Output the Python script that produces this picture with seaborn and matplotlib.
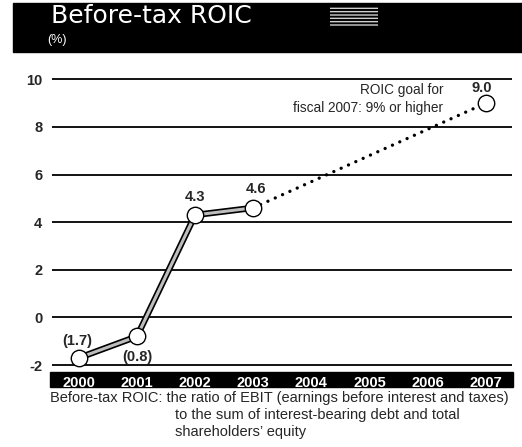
import matplotlib
matplotlib.use("Agg")
import matplotlib.pyplot as plt
from matplotlib.patches import Rectangle
import seaborn as sns
import pandas as pd

years = ["2000", "2001", "2002", "2003", "2004", "2005", "2006", "2007"]
actual_years = ["2000", "2001", "2002", "2003"]
actual_values = [-1.7, -0.8, 4.3, 4.6]
goal_years = ["2003", "2007"]
goal_values = [4.6, 9.0]
value_labels = ["(1.7)", "(0.8)", "4.3", "4.6"]
goal_label = "9.0"
yticks = [-2, 0, 2, 4, 6, 8, 10]

W, H = 522, 447
sns.set_style("white")
plt.rcParams['font.family'] = ['Liberation Sans', 'DejaVu Sans']
fig = plt.figure(figsize=(W / 100, H / 100), dpi=100)

def fx(px):
    return px / W

def fy(py):
    return 1 - py / H

# y: 10 -> 79.3 px, -2 -> 365 px ; ylim(-2.1, 10.2)
ax = fig.add_axes([fx(51.5), fy(367.4), fx(512) - fx(51.5), fy(74.5) - fy(367.4)])
ax.set_xlim(-0.47, 7.45)
ax.set_ylim(-2.1, 10.2)

pos = {y: i for i, y in enumerate(years)}
df_a = pd.DataFrame({"x": [pos[y] for y in actual_years], "v": actual_values})
df_g = pd.DataFrame({"x": [pos[y] for y in goal_years], "v": goal_values})

for yv in yticks:
    ax.axhline(yv, color="black", lw=1.3, zorder=1)

sns.lineplot(data=df_a, x="x", y="v", ax=ax, color="black", lw=4.6, zorder=3,
             solid_capstyle="butt")
sns.lineplot(data=df_a, x="x", y="v", ax=ax, color="#bdbdbd", lw=2.2, zorder=4,
             solid_capstyle="butt")
ln = sns.lineplot(data=df_g, x="x", y="v", ax=ax, color="black", lw=2.4, zorder=3)
ln.lines[-1].set_dashes((0.01, 2.4))
ln.lines[-1].set_dash_capstyle("round")

df_m = pd.concat([df_a, df_g.iloc[[1]]])
sns.scatterplot(data=df_m, x="x", y="v", ax=ax, s=140, color="white",
                edgecolor="black", linewidth=1.0, zorder=5)

# value labels
offsets = [(-0.03, 0.72), (0.0, -0.85), (0.0, 0.75), (0.05, 0.8)]
for (xv, yv), lab, (dx, dy) in zip(zip(df_a["x"], df_a["v"]), value_labels, offsets):
    ax.text(xv + dx, yv + dy, lab, ha="center", va="center", fontsize=10.5,
            fontweight="bold", zorder=6)
ax.text(df_g["x"].iloc[-1] - 0.07, df_g["v"].iloc[-1] + 0.65, goal_label,
        ha="center", va="center", fontsize=10.5, fontweight="bold", zorder=6)

fig.text(fx(443), fy(90), "ROIC goal for", ha="right", va="center", fontsize=9.8)
fig.text(fx(443), fy(108), "fiscal 2007: 9% or higher", ha="right", va="center",
         fontsize=9.8)

ax.set_yticks(yticks)
ax.set_yticklabels([str(v) for v in yticks], fontsize=10.5, fontweight="bold")
ax.tick_params(axis="y", length=0, pad=6.5)
ax.set_xticks(range(len(years)))
ax.set_xticklabels(years, color="white", fontsize=10.5, fontweight="bold")
ax.tick_params(axis="x", length=0, pad=6)
ax.set_xlabel("")
ax.set_ylabel("")
for s in ax.spines.values():
    s.set_visible(False)

# year band
fig.add_artist(Rectangle((fx(50), fy(387)), fx(513) - fx(50), fy(372) - fy(387),
                         transform=fig.transFigure, color="black", zorder=0))

# title banner
fig.add_artist(Rectangle((fx(13), fy(52)), fx(522) - fx(13), fy(3) - fy(52),
                         transform=fig.transFigure, color="black", zorder=0))
plt.rcParams['hatch.color'] = '#cfcfcf'
fig.add_artist(Rectangle((fx(330), fy(27)), fx(378) - fx(330), fy(6) - fy(27),
                         transform=fig.transFigure, facecolor="black",
                         edgecolor="#cfcfcf", hatch="-----", lw=0, zorder=1))
fig.text(fx(51), fy(16), "Before-tax ROIC", color="white", fontsize=18,
         va="center", ha="left", family=["DejaVu Sans"])
fig.text(fx(47), fy(40), "(%)", color="white", fontsize=9, va="center", ha="left")

fig.text(fx(50), fy(398), "Before-tax ROIC: the ratio of EBIT (earnings before interest and taxes)",
         fontsize=10.5, va="center", ha="left")
fig.text(fx(175), fy(415), "to the sum of interest-bearing debt and total",
         fontsize=10.5, va="center", ha="left")
fig.text(fx(175), fy(432), "shareholders\u2019 equity",
         fontsize=10.5, va="center", ha="left")

fig.savefig("out.png", dpi=100)
